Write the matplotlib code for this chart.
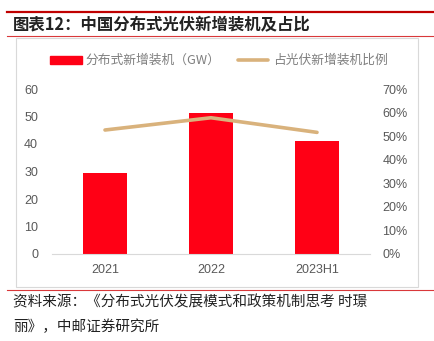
import matplotlib
matplotlib.use("Agg")
import matplotlib.pyplot as plt
from matplotlib.patches import Rectangle
from matplotlib.lines import Line2D
from matplotlib.ticker import FuncFormatter, MultipleLocator

categories = ["2021", "2022", "2023H1"]
capacity_gw = [29.3, 51.1, 41.0]
share_pct = [52.6, 57.8, 51.6]

W, H = 434, 341
fig = plt.figure(figsize=(W / 100, H / 100), dpi=100)
fig.patch.set_facecolor("white")

def fx(x): return x / W
def fy(y): return 1 - y / H

CJK = ["Noto Sans CJK SC", "DejaVu Sans"]
NUM = ["Liberation Sans", "Noto Sans CJK SC"]
TICK = "#595959"

# header lines and title
fig.add_artist(Line2D([fx(7), fx(434)], [fy(12), fy(12)], color="#c00000", lw=1.6))
fig.add_artist(Line2D([fx(7), fx(434)], [fy(36), fy(36)], color="#d9383a", lw=0.8))
fig.text(fx(13), fy(25), "图表12：中国分布式光伏新增装机及占比", family=CJK,
         fontsize=11.8, fontweight="bold", color="#222222", va="center", ha="left")

# chart frame
fig.add_artist(Rectangle((fx(16), fy(287)), fx(418) - fx(16), fy(38) - fy(287),
                         fill=False, edgecolor="#d9d9d9", lw=0.8))
# bottom red line
fig.add_artist(Line2D([fx(7), fx(434)], [fy(290), fy(290)], color="#d9383a", lw=0.8))

# source
fig.text(fx(13), fy(302), "资料来源：《分布式光伏发展模式和政策机制思考 时璟", family=CJK,
         fontsize=10.5, color="#222222", va="center", ha="left")
fig.text(fx(13), fy(327), "丽》，中邮证券研究所", family=CJK,
         fontsize=10.5, color="#222222", va="center", ha="left")

# axes
ax = fig.add_axes([fx(52), fy(254), fx(370) - fx(52), fy(89) - fy(254)])
x = list(range(len(categories)))
ax.bar(x, capacity_gw, width=0.41, color="#ff0015", zorder=2)
ax.set_xlim(-0.5, len(categories) - 0.5)
ax.set_ylim(0, 60)
ax.yaxis.set_major_locator(MultipleLocator(10))
ax.set_xticks(x)
ax.set_xticklabels(categories)
for s in ["top", "right", "left"]:
    ax.spines[s].set_visible(False)
ax.spines["bottom"].set_color("#d9d9d9")
ax.spines["bottom"].set_linewidth(0.8)
ax.tick_params(axis="both", length=0, colors=TICK, labelsize=9)
ax.tick_params(axis="y", pad=10)
ax.tick_params(axis="x", pad=7)
for lab in ax.get_xticklabels() + ax.get_yticklabels():
    lab.set_family(NUM)

ax2 = ax.twinx()
ax2.plot(x, share_pct, color="#d9b27c", lw=2.6, solid_capstyle="round", zorder=3)
ax2.set_ylim(0, 70)
ax2.yaxis.set_major_locator(MultipleLocator(10))
ax2.yaxis.set_major_formatter(FuncFormatter(lambda v, p: f"{v:.0f}%"))
for s in ["top", "right", "left", "bottom"]:
    ax2.spines[s].set_visible(False)
ax2.tick_params(axis="y", length=0, colors=TICK, labelsize=9, pad=9)
for lab in ax2.get_yticklabels():
    lab.set_family(NUM)

# legend
fig.add_artist(Rectangle((fx(50), fy(64)), fx(82) - fx(50), fy(56) - fy(64),
                         color="#ff0015"))
fig.text(fx(85), fy(60), "分布式新增装机（GW）", family=CJK, fontsize=9.2,
         color="#7f7f7f", va="center", ha="left")
fig.add_artist(Line2D([fx(238), fx(268)], [fy(60), fy(60)], color="#d9b27c",
                      lw=2.6, solid_capstyle="round"))
fig.text(fx(273), fy(60), "占光伏新增装机比例", family=CJK, fontsize=9.2,
         color="#7f7f7f", va="center", ha="left")

fig.savefig("out.png", dpi=100)
